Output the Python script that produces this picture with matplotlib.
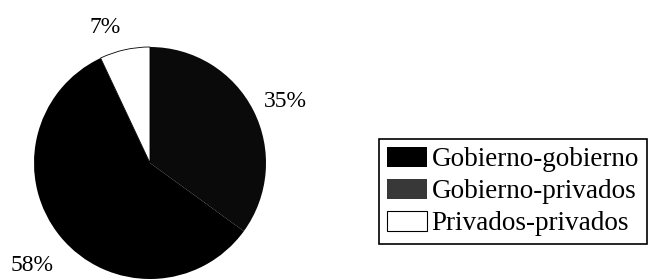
import matplotlib
matplotlib.use("Agg")
import matplotlib.pyplot as plt
from matplotlib.patches import Patch

plt.rcParams['font.family'] = ['Liberation Serif', 'DejaVu Serif']

categories = ['Gobierno-privados', 'Gobierno-gobierno', 'Privados-privados']
values = [35, 58, 7]
colors = ['#0a0a0a', '#000000', '#ffffff']
legend_colors = ['#383838', '#000000', '#ffffff']
legend_order = [1, 0, 2]

W, H = 666, 279
fig = plt.figure(figsize=(W / 100, H / 100), dpi=100)
fig.patch.set_facecolor('white')

cx, cy, r = 150, 163, 116
ax = fig.add_axes([(cx - r) / W, (H - cy - r) / H, 2 * r / W, 2 * r / H])
wedges, _ = ax.pie(values, colors=colors, startangle=90, counterclock=False,
                   radius=1, wedgeprops=dict(linewidth=0))
wedges[2].set_edgecolor('#000000')
wedges[2].set_linewidth(0.6)
ax.set_xlim(-1, 1)
ax.set_ylim(-1, 1)
ax.set_aspect('equal')
ax.axis('off')

label_pos = [(1.17, 0.53), (-1.02, -0.88), (-0.39, 1.165)]
for v, (lx, ly) in zip(values, label_pos):
    ax.text(lx, ly, f"{v}%", ha='center', va='center', fontsize=17,
            color='black', clip_on=False)

handles = [Patch(facecolor=legend_colors[i], edgecolor='black',
                 linewidth=0.8 if i == 2 else 0) for i in legend_order]
labels = [categories[i] for i in legend_order]
leg = fig.legend(handles, labels, loc='upper left',
                 bbox_to_anchor=(379 / W, 1 - 139 / H), borderaxespad=0,
                 fontsize=19.5, frameon=True, fancybox=False, framealpha=1,
                 edgecolor='black', handlelength=1.48, handleheight=0.78,
                 handletextpad=0.18, labelspacing=0.24, borderpad=0.28)
leg.get_frame().set_linewidth(1.2)

fig.savefig('out.png', dpi=100)
